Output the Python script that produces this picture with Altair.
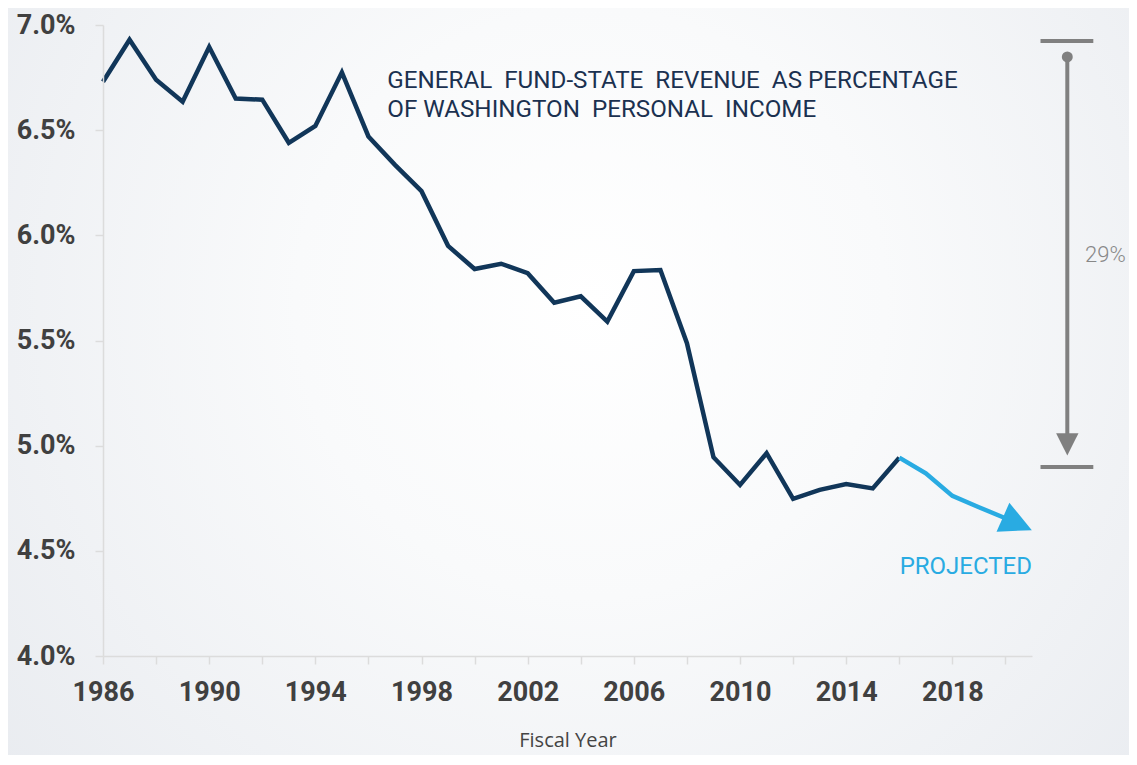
import altair as alt
import pandas as pd

# ---- data ----
actual_years = list(range(1986, 2017))
actual_values = [6.73, 6.93, 6.74, 6.635, 6.895, 6.65, 6.645, 6.44, 6.52, 6.775,
                 6.47, 6.335, 6.21, 5.95, 5.84, 5.865, 5.82, 5.68, 5.71, 5.59,
                 5.83, 5.835, 5.487, 4.945, 4.813, 4.964, 4.747, 4.79, 4.818, 4.797,
                 4.943]
proj_years = [2016, 2017, 2018, 2019, 2020]
proj_values = [4.943, 4.869, 4.761, 4.707, 4.655]

x_ticks = list(range(1986, 2022))
y_ticks = [4.0, 4.5, 5.0, 5.5, 6.0, 6.5, 7.0]

title_lines = ["GENERAL\u00a0 FUND-STATE\u00a0 REVENUE\u00a0 AS PERCENTAGE",
               "OF WASHINGTON\u00a0 PERSONAL\u00a0 INCOME"]
title_year = [1996.71, 1996.71]
title_value = [6.734, 6.596]

proj_label = ["PROJECTED"]
proj_label_year = [2021]
proj_label_value = [4.423]

# projected arrowhead (data position)
head_year = [2020.45]
head_value = [4.629]

# decline annotation (29%)
ann_year = 2022.33
ann_top_bar = 6.924
ann_dot = 6.848
ann_head = 5.006
ann_line_end = 4.99
ann_bottom_bar = 4.899
ann_bar_from = 2021.32
ann_bar_to = 2023.31
ann_label = ["29%"]
ann_label_year = [2023.0]
ann_label_value = [5.907]

W, H = 929, 631
PAD = {"left": 95, "top": 17, "right": 97, "bottom": 99}

NAVY = "#113659"
BLUE = "#29abe2"
GRAY = "#808080"

actual_df = pd.DataFrame({"year": actual_years, "value": actual_values})
proj_df = pd.DataFrame({"year": proj_years, "value": proj_values})

xscale = alt.Scale(domain=[1986, 2021], nice=False, zero=False)
yscale = alt.Scale(domain=[4.0, 7.0], nice=False, zero=False)

gradient = alt.RadialGradient(
    gradient="radial",
    x1=0.52, y1=0.43, x2=0.52, y2=0.43, r1=0.0, r2=0.75,
    stops=[alt.GradientStop(color="#ffffff", offset=0.0),
           alt.GradientStop(color="#f9fafb", offset=0.35),
           alt.GradientStop(color="#e6e9ee", offset=1.0)],
)

bg = alt.Chart(pd.DataFrame({"a": [0]})).mark_rect(fill=gradient, clip=False).encode(
    x=alt.value(-PAD["left"]), x2=alt.value(W + PAD["right"]),
    y=alt.value(-PAD["top"]), y2=alt.value(H + PAD["bottom"]),
)

x_axis = alt.Axis(
    values=x_ticks, labelExpr="datum.value % 4 == 2 ? datum.value : ''",
    labelOverlap=False, labelFlush=False, grid=False, zindex=2,
    labelFont="Roboto", labelFontWeight="bold", labelFontSize=27, labelColor="#404040",
    labelPadding=15, tickSize=8, tickColor="#dcdcdc", domainColor="#dcdcdc",
    tickWidth=1.5, domainWidth=1.5,
    title="Fiscal Year", titleFont="Open Sans", titleFontSize=20, titleFontWeight="normal",
    titleColor="#444444", titlePadding=25,
)
y_axis = alt.Axis(
    values=y_ticks, labelExpr="format(datum.value, '.1f') + '%'",
    labelOverlap=False, labelFlush=False, grid=False, zindex=2,
    labelFont="Roboto", labelFontWeight="bold", labelFontSize=27, labelColor="#404040",
    labelPadding=20, tickSize=8, tickColor="#dcdcdc", domainColor="#dcdcdc",
    tickWidth=1.5, domainWidth=1.5, title=None,
)

actual_line = alt.Chart(actual_df).mark_line(
    color=NAVY, strokeWidth=4.5, strokeJoin="miter", clip=False
).encode(
    x=alt.X("year:Q", scale=xscale, axis=x_axis),
    y=alt.Y("value:Q", scale=yscale, axis=y_axis),
)

proj_line = alt.Chart(proj_df).mark_line(
    color=BLUE, strokeWidth=4.5, strokeJoin="miter", clip=False
).encode(x=alt.X("year:Q", scale=xscale), y=alt.Y("value:Q", scale=yscale))

head = alt.Chart(pd.DataFrame({"year": head_year, "value": head_value})).mark_point(
    shape="M -1 -1 L 1 0 L -1 1 Z", size=1000, filled=True, fill=BLUE, opacity=1,
    strokeWidth=0, angle=24, clip=False
).encode(x=alt.X("year:Q", scale=xscale), y=alt.Y("value:Q", scale=yscale))

title_txt = alt.Chart(pd.DataFrame({"t": title_lines, "year": title_year, "value": title_value})).mark_text(
    align="left", baseline="middle", font="Roboto", fontSize=24.2, color="#1b3150", clip=False
).encode(x=alt.X("year:Q", scale=xscale), y=alt.Y("value:Q", scale=yscale), text="t:N")

proj_txt = alt.Chart(pd.DataFrame({"t": proj_label, "year": proj_label_year, "value": proj_label_value})).mark_text(
    align="right", baseline="middle", font="Roboto", fontSize=24, color=BLUE, clip=False
).encode(x=alt.X("year:Q", scale=xscale), y=alt.Y("value:Q", scale=yscale), text="t:N")

# 29% annotation
ann_vline = alt.Chart(pd.DataFrame({"year": [ann_year], "v1": [ann_dot], "v2": [ann_line_end]})).mark_rule(
    color=GRAY, strokeWidth=4, clip=False
).encode(x=alt.X("year:Q", scale=xscale), y=alt.Y("v1:Q", scale=yscale), y2="v2:Q")

ann_bars = alt.Chart(pd.DataFrame({"x1": [ann_bar_from, ann_bar_from], "x2": [ann_bar_to, ann_bar_to],
                                   "v": [ann_top_bar, ann_bottom_bar]})).mark_rule(
    color=GRAY, strokeWidth=4, clip=False
).encode(x=alt.X("x1:Q", scale=xscale), x2="x2:Q", y=alt.Y("v:Q", scale=yscale))

ann_dot_mark = alt.Chart(pd.DataFrame({"year": [ann_year], "v": [ann_dot]})).mark_point(
    shape="circle", size=120, filled=True, fill=GRAY, opacity=1, strokeWidth=0, clip=False
).encode(x=alt.X("year:Q", scale=xscale), y=alt.Y("v:Q", scale=yscale))

ann_head_mark = alt.Chart(pd.DataFrame({"year": [ann_year], "v": [ann_head]})).mark_point(
    shape="M -1 -1 L 1 -1 L 0 1 Z", size=500, filled=True, fill=GRAY, opacity=1, strokeWidth=0, clip=False
).encode(x=alt.X("year:Q", scale=xscale), y=alt.Y("v:Q", scale=yscale))

ann_txt = alt.Chart(pd.DataFrame({"t": ann_label, "year": ann_label_year, "value": ann_label_value})).mark_text(
    align="left", baseline="middle", font="Roboto", fontSize=22, fontWeight=300, color="#888888", clip=False
).encode(x=alt.X("year:Q", scale=xscale), y=alt.Y("value:Q", scale=yscale), text="t:N")

chart = alt.layer(
    bg, actual_line, proj_line, head, title_txt, proj_txt,
    ann_vline, ann_bars, ann_dot_mark, ann_head_mark, ann_txt,
).properties(
    width=W, height=H, autosize=alt.AutoSizeParams(type="none"), padding=PAD,
    background="#eef0f3",
).configure_view(stroke=None)

chart.save("out.html", embed_options={"renderer": "svg", "actions": False})
